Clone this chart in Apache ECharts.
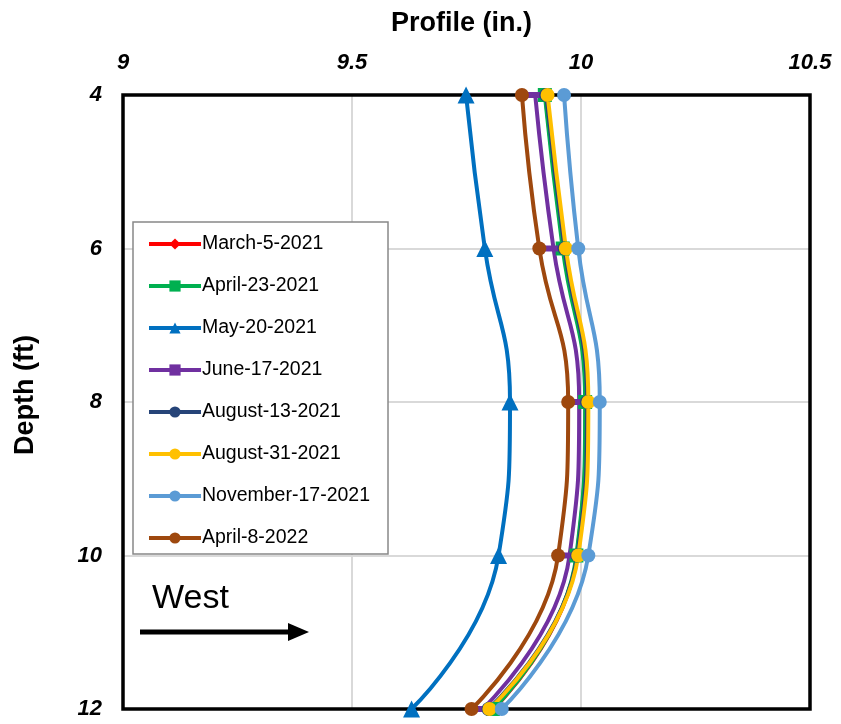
<!DOCTYPE html>
<html><head><meta charset="utf-8">
<script src="https://cdn.jsdelivr.net/npm/echarts@6/dist/echarts.min.js"></script>
<style>html,body{margin:0;padding:0;background:#fff}#c{width:841px;height:724px}</style>
</head><body><div id="c"></div>
<script>
var depths = [4, 6, 8, 10, 12];
var depthTicks = [4, 6, 8, 10, 12];
var profileTicks = [9, 9.5, 10, 10.5];
var seriesNames = ['March-5-2021','April-23-2021','May-20-2021','June-17-2021','August-13-2021','August-31-2021','November-17-2021','April-8-2022'];
var march5_2021   = [9.922, 9.962, 10.010, 9.991, 9.809];
var april23_2021  = [9.921, 9.960, 10.009, 9.990, 9.808];
var may20_2021    = [9.749, 9.790, 9.845, 9.820, 9.630];
var june17_2021   = [9.900, 9.940, 9.996, 9.975, 9.785];
var august13_2021 = [9.924, 9.964, 10.013, 9.992, 9.798];
var august31_2021 = [9.927, 9.967, 10.016, 9.994, 9.800];
var nov17_2021    = [9.963, 9.994, 10.041, 10.016, 9.827];
var april8_2022   = [9.871, 9.909, 9.972, 9.950, 9.761];
var allValues = [march5_2021, april23_2021, may20_2021, june17_2021, august13_2021, august31_2021, nov17_2021, april8_2022];
var colors = ['#FF0000','#00B050','#0070C0','#7030A0','#264478','#FFC000','#5B9BD5','#9E480E'];
var symbols = ['diamond','rect','triangle','rect','circle','circle','circle','circle'];
var symbolSizes = [[8,10],[14,14],[17,17],[18,6],[14,14],[14,14],[14,14],[14,14]];
var font = 'Arial, "Liberation Sans", sans-serif';

var series = allValues.map(function(vals, i){
  return {
    name: seriesNames[i], type: 'line', smooth: 0.5, clip: false, z: 3,
    data: vals.map(function(v, j){ return [v, depths[j]]; }),
    symbol: symbols[i], symbolSize: symbolSizes[i],
    lineStyle: {color: colors[i], width: 4},
    itemStyle: {color: colors[i]},
    color: colors[i]
  };
});

var chart = echarts.init(document.getElementById('c'));
chart.setOption({
  animation: false,
  grid: {left: 123, top: 95, width: 687, height: 614, show: false, containLabel: false, outerBoundsMode: 'none'},
  xAxis: {
    type: 'value', position: 'top', min: 9, max: 10.5, interval: 0.5,
    name: 'Profile (in.)', nameLocation: 'middle', nameGap: 58,
    nameTextStyle: {fontFamily: font, fontWeight: 'bold', fontSize: 27, color: '#000', padding: [0, 10, 0, 0]},
    axisLine: {show: false}, axisTick: {show: false},
    axisLabel: {fontFamily: font, fontWeight: 'bold', fontStyle: 'italic', fontSize: 22, color: '#000', margin: 21,
      formatter: function(v){ return profileTicks.indexOf(v) >= 0 ? String(v) : ''; }},
    splitLine: {show: true, showMinLine: false, showMaxLine: false, lineStyle: {color: '#d9d9d9', width: 2}}
  },
  yAxis: {
    type: 'value', inverse: true, min: 4, max: 12, interval: 2,
    name: 'Depth (ft)', nameLocation: 'middle', nameGap: 84, nameRotate: 90,
    nameTextStyle: {fontFamily: font, fontWeight: 'bold', fontSize: 27, color: '#000', padding: [0, 0, 0, 14]},
    axisLine: {show: false}, axisTick: {show: false},
    axisLabel: {fontFamily: font, fontWeight: 'bold', fontStyle: 'italic', fontSize: 22, color: '#000', margin: 21,
      formatter: function(v){ return depthTicks.indexOf(v) >= 0 ? String(v) : ''; }},
    splitLine: {show: true, showMinLine: false, showMaxLine: false, lineStyle: {color: '#d9d9d9', width: 2}}
  },
  legend: {
    orient: 'vertical', left: 133, top: 222,
    padding: [12, 18, 6, 14], itemGap: 22, itemWidth: 52, itemHeight: 14,
    backgroundColor: '#fff', borderColor: '#888', borderWidth: 1.5,
    lineStyle: {width: 4},
    textStyle: {fontFamily: font, fontSize: 19.5, lineHeight: 20, color: '#000', padding: [0,0,0,-4]},
    data: seriesNames
  },
  graphic: [
    {type: 'rect', z: 1, shape: {x: 123, y: 95, width: 687, height: 614}, style: {fill: null, stroke: '#000', lineWidth: 3.5}},
    {type: 'text', left: 152, top: 582, style: {text: 'West', fontFamily: font, fontSize: 34, fill: '#000'}},
    {type: 'line', shape: {x1: 140, y1: 632, x2: 292, y2: 632}, style: {stroke: '#000', lineWidth: 5}},
    {type: 'polygon', shape: {points: [[288, 623], [309, 632], [288, 641]]}, style: {fill: '#000'}}
  ],
  series: series
});
</script></body></html>
